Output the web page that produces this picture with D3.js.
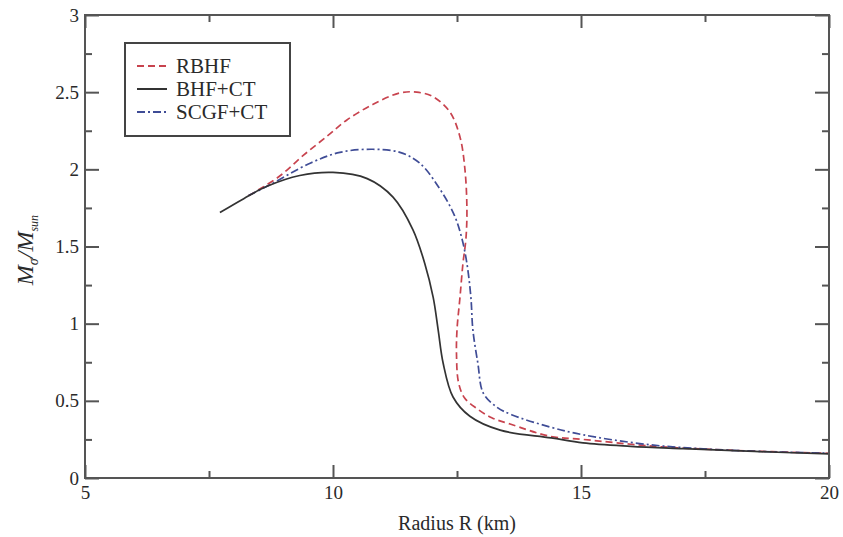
<!DOCTYPE html>
<html>
<head>
<meta charset="utf-8">
<script src="https://cdn.jsdelivr.net/npm/d3@7"></script>
<style>
  body { margin: 0; background: #fff; }
  svg text { font-family: "Liberation Serif", "Times New Roman", "DejaVu Serif", serif !important; fill: #2a2a2a; }
</style>
</head>
<body>
<svg id="chart" width="843" height="537"></svg>
<script>
// radius (km), mass (M/Msun)
var bhfR = [7.72, 8.2, 8.67, 9.33, 10.0, 10.69, 11.21, 11.61, 11.85, 12.02, 12.12, 12.22, 12.42, 12.76, 13.37, 14.4, 15.04, 16.0, 17.06, 18.5, 20.0];
var bhfM = [1.72, 1.81, 1.89, 1.96, 1.98, 1.94, 1.82, 1.61, 1.39, 1.17, 0.96, 0.745, 0.525, 0.40, 0.31, 0.26, 0.227, 0.205, 0.19, 0.172, 0.156];

var rbhfR = [8.3, 8.9, 9.4, 9.9, 10.28, 10.8, 11.35, 11.69, 12.02, 12.36, 12.56, 12.66, 12.70, 12.68, 12.62, 12.56, 12.5, 12.49, 12.53, 12.65, 12.9, 13.2, 13.57, 14.38, 15.04, 16.5, 18.0, 20.0];
var rbhfM = [1.83, 1.95, 2.09, 2.22, 2.32, 2.42, 2.495, 2.50, 2.47, 2.37, 2.21, 2.0, 1.74, 1.55, 1.39, 1.17, 0.96, 0.80, 0.62, 0.52, 0.45, 0.39, 0.35, 0.27, 0.25, 0.205, 0.18, 0.16];

var scgfR = [8.3, 8.73, 9.54, 10.14, 10.8, 11.35, 11.75, 12.16, 12.45, 12.6, 12.70, 12.78, 12.82, 12.92, 13.03, 13.3, 13.6, 14.38, 15.04, 16.4, 18.0, 20.0];
var scgfM = [1.83, 1.90, 2.04, 2.11, 2.13, 2.11, 2.04, 1.87, 1.70, 1.55, 1.39, 1.17, 0.96, 0.745, 0.55, 0.46, 0.41, 0.33, 0.28, 0.215, 0.18, 0.16];

var seriesNames = ["RBHF", "BHF+CT", "SCGF+CT"];
var xMajor = [5, 10, 15, 20], xMinor = [7.5, 12.5, 17.5];
var yMajor = [0, 0.5, 1, 1.5, 2, 2.5, 3], yMinor = [0.25, 0.75, 1.25, 1.75, 2.25, 2.75];

var serif = "'Liberation Serif', 'Times New Roman', serif";
var svg = d3.select("#chart"),
    axisColor = "#555",
    x = d3.scaleLinear().domain([5, 20]).range([85, 829]),
    y = d3.scaleLinear().domain([0, 3]).range([478, 15]);

var series = [
    {name: seriesNames[0], r: rbhfR, m: rbhfM, color: "#c8434e", dash: "7,4"},
    {name: seriesNames[1], r: bhfR,  m: bhfM,  color: "#333",    dash: null},
    {name: seriesNames[2], r: scgfR, m: scgfM, color: "#3f4c96", dash: "8,3,2,3"}
];

var line = d3.line()
    .x(function(d){ return x(d[0]); })
    .y(function(d){ return y(d[1]); })
    .curve(d3.curveCatmullRom.alpha(0.5));

// curves (solid drawn last so it sits on top where they overlap)
[series[0], series[2], series[1]].forEach(function(s){
    svg.append("path")
        .datum(d3.zip(s.r, s.m))
        .attr("d", line)
        .attr("fill", "none")
        .attr("stroke", s.color)
        .attr("stroke-width", 1.7)
        .attr("stroke-dasharray", s.dash);
});

// axes, ticks point inward
function styleAxis(g){
    g.attr("font-family", serif);
    g.select(".domain").remove();
    g.selectAll(".tick line").attr("stroke", axisColor).attr("stroke-width", 2);
    g.selectAll("text").attr("font-size", 19).attr("fill", "#2a2a2a");
}
svg.append("g").attr("transform", "translate(0," + y(0) + ")")
    .call(d3.axisBottom(x).tickValues(xMajor).tickFormat(d3.format("d")).tickSizeInner(-13).tickSizeOuter(0).tickPadding(8))
    .call(styleAxis);
svg.append("g").attr("transform", "translate(0," + y(0) + ")")
    .call(d3.axisBottom(x).tickValues(xMinor).tickFormat("").tickSizeInner(-7).tickSizeOuter(0))
    .call(styleAxis);
svg.append("g").attr("transform", "translate(0," + y(3) + ")")
    .call(d3.axisTop(x).tickValues(xMajor).tickFormat("").tickSizeInner(-13).tickSizeOuter(0))
    .call(styleAxis);
svg.append("g").attr("transform", "translate(0," + y(3) + ")")
    .call(d3.axisTop(x).tickValues(xMinor).tickFormat("").tickSizeInner(-7).tickSizeOuter(0))
    .call(styleAxis);
svg.append("g").attr("transform", "translate(" + x(5) + ",0)")
    .call(d3.axisLeft(y).tickValues(yMajor).tickFormat(d3.format("~g")).tickSizeInner(-14).tickSizeOuter(0).tickPadding(6))
    .call(styleAxis);
svg.append("g").attr("transform", "translate(" + x(5) + ",0)")
    .call(d3.axisLeft(y).tickValues(yMinor).tickFormat("").tickSizeInner(-7).tickSizeOuter(0))
    .call(styleAxis);
svg.append("g").attr("transform", "translate(" + x(20) + ",0)")
    .call(d3.axisRight(y).tickValues(yMajor).tickFormat("").tickSizeInner(-14).tickSizeOuter(0))
    .call(styleAxis);
svg.append("g").attr("transform", "translate(" + x(20) + ",0)")
    .call(d3.axisRight(y).tickValues(yMinor).tickFormat("").tickSizeInner(-7).tickSizeOuter(0))
    .call(styleAxis);

svg.append("rect")
    .attr("x", x(5)).attr("y", y(3))
    .attr("width", x(20) - x(5)).attr("height", y(0) - y(3))
    .attr("fill", "none").attr("stroke", axisColor).attr("stroke-width", 2);

// axis titles
svg.append("text")
    .attr("x", 457).attr("y", 530)
    .attr("text-anchor", "middle").attr("font-size", 20)
    .attr("font-family", serif)
    .text("Radius R (km)");

var yl = svg.append("text")
    .attr("transform", "translate(33,250) rotate(-90)")
    .attr("text-anchor", "middle").attr("font-size", 24)
    .attr("font-family", serif)
    .attr("font-style", "italic");
yl.append("tspan").text("M");
yl.append("tspan").attr("font-size", 14).attr("dy", 5).text("σ");
yl.append("tspan").attr("dy", -5).text("/M");
yl.append("tspan").attr("font-size", 12).attr("dy", 5).text("sun");

// legend
var legend = svg.append("g").attr("font-family", serif);
legend.append("rect")
    .attr("x", 125).attr("y", 43).attr("width", 165).attr("height", 93)
    .attr("fill", "#fff").attr("stroke", "#444").attr("stroke-width", 2);
series.forEach(function(s, i){
    var ly = 66 + i * 23;
    legend.append("line")
        .attr("x1", 137).attr("x2", 167).attr("y1", ly).attr("y2", ly)
        .attr("stroke", s.color).attr("stroke-width", 2)
        .attr("stroke-dasharray", s.dash);
    legend.append("text")
        .attr("x", 176).attr("y", ly + 7)
        .attr("font-size", 21)
        .text(s.name);
});
</script>
</body>
</html>
